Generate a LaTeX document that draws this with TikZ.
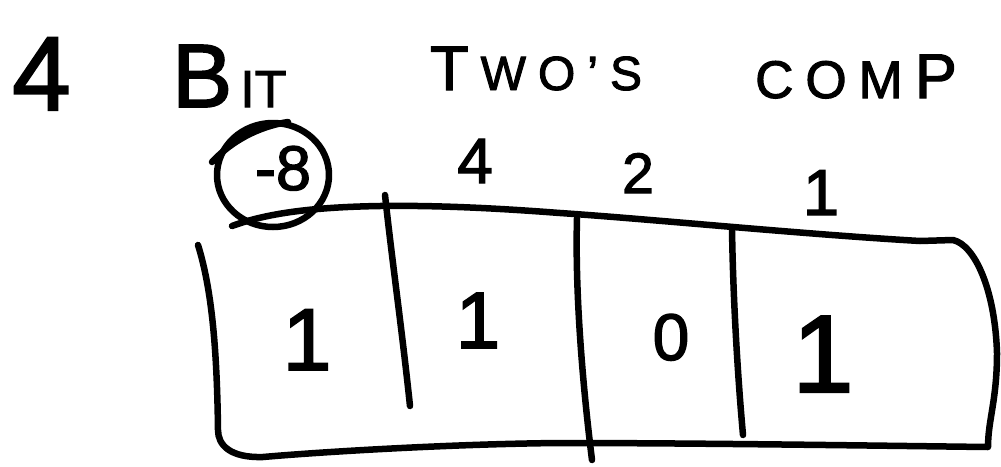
\documentclass[tikz,border=0pt]{standalone}
\usepackage{fontspec}
\setmainfont{Liberation Sans}[RawFeature={embolden=2}]
\newcommand\hsz[1]{\fontsize{#1}{#1}\selectfont}
\begin{document}
\begin{tikzpicture}[x=1pt,y=-1pt,
  ink/.style={line width=6.5pt, line cap=round, line join=round},
  lbl/.style={inner sep=0pt, anchor=base},
  lblw/.style={inner sep=0pt, anchor=base west}]
\useasboundingbox (0,0) rectangle (1001,466);
% title
\node[lblw] (t4) at (12,110) {\hsz{105}4};
\node[lblw] (tbit) at (172,107) {\hsz{90}B\hspace{8pt}\hsz{52}IT};
\node[lblw] (ttwos) at (430,90) {\hsz{63}T\hspace{12pt}\hsz{48}W\hspace{12pt}O\hspace{12pt}'\hspace{12pt}S};
\node[lblw] (tcomp) at (755,98) {\hsz{53}C\hspace{12pt}O\hspace{12pt}M\hspace{12pt}\hsz{63}P};
% weights
\node[lbl] (w8) at (283,190) {\hsz{63}-8};
\draw[ink] (273,175) ellipse [x radius=56, y radius=52];
\draw[ink] (212,162) .. controls (225,148) and (250,128) .. (288,122);
\node[lbl] (w4) at (475,183) {\hsz{64}4};
\node[lbl] (w2) at (638,193) {\hsz{57}2};
\node[lbl] (w1) at (821,215) {\hsz{65}1};
% box
\draw[ink] (232,226) .. controls (270,212) and (320,207) .. (380,206)
  .. controls (450,205) and (520,210) .. (560,213)
  .. controls (650,219) and (800,234) .. (920,241) -- (953,240)
  .. controls (975,245) and (995,290) .. (997,353)
  .. controls (997,400) and (988,420) .. (988,447)
  .. controls (900,446) and (700,443) .. (560,443)
  .. controls (450,444) and (320,452) .. (263,457)
  .. controls (230,458) and (218,445) .. (218,430)
  .. controls (217,350) and (212,290) .. (198,245);
\draw[ink] (385,195) .. controls (392,260) and (402,330) .. (410,406);
\draw[ink] (577,218) .. controls (575,290) and (582,380) .. (592,460);
\draw[ink] (732,228) .. controls (733,300) and (738,380) .. (743,435);
% bits
\node[lbl] (b3) at (307,370) {\hsz{88}1};
\node[lbl] (b2) at (478,348) {\hsz{80}1};
\node[lbl] (b1) at (671,360) {\hsz{66}0};
\node[lbl] (b0) at (823,392) {\hsz{110}1};
\end{tikzpicture}
\end{document}
